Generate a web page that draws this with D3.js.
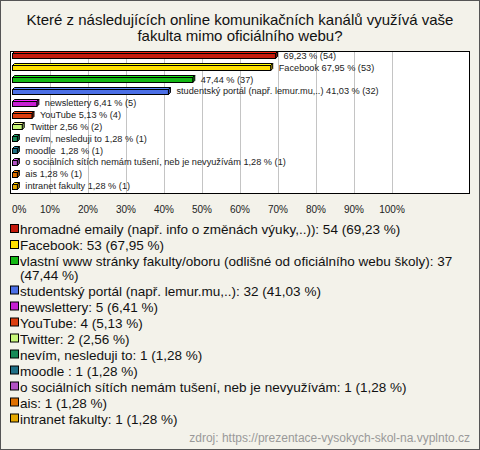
<!DOCTYPE html>
<html><head><meta charset="utf-8">
<script src="https://cdn.jsdelivr.net/npm/d3@7/dist/d3.min.js"></script>
<style>
html,body{margin:0;padding:0;background:#f3f2ea;}
svg{display:block;font-family:"Liberation Sans",Arial,sans-serif;}
</style></head>
<body><svg id="c" width="480" height="450"></svg>
<script>
const titleLines = ["Které z následujících online komunikačních kanálů využívá vaše", "fakulta mimo oficiálního webu?"];
const categories = [
  "hromadné emaily (např. info o změnách výuky,..))",
  "Facebook",
  "vlastní www stránky fakulty/oboru (odlišné od oficiálního webu školy)",
  "studentský portál (např. lemur.mu,..)",
  "newslettery",
  "YouTube",
  "Twitter",
  "nevím, nesleduji to",
  "moodle ",
  "o sociálních sítích nemám tušení, neb je nevyužívám",
  "ais",
  "intranet fakulty"
];
const barNames = ["", "Facebook", "", "studentský portál (např. lemur.mu,..)", "newslettery", "YouTube", "Twitter", "nevím, nesleduji to", "moodle ", "o sociálních sítích nemám tušení, neb je nevyužívám", "ais", "intranet fakulty"];
const counts = [54, 53, 37, 32, 5, 4, 2, 1, 1, 1, 1, 1];
const percents = [69.23, 67.95, 47.44, 41.03, 6.41, 5.13, 2.56, 1.28, 1.28, 1.28, 1.28, 1.28];
const colors = ["#c41a0c", "#ffe000", "#14b814", "#4b6fe6", "#c620d2", "#dc3e10", "#c8f77a", "#178a58", "#1f6f86", "#b252c4", "#e07000", "#e4a800"];
const tickValues = [0,10,20,30,40,50,60,70,80,90,100];
const tickLabels = ["0%","10%","20%","30%","40%","50%","60%","70%","80%","90%","100%"];
const sourceText = "zdroj: https://prezentace-vysokych-skol-na.vyplnto.cz";

const fmt = v => d3.format(".2f")(v).replace(".", ",");
const svg = d3.select("#c");

svg.append("rect").attr("x",0.5).attr("y",0.5).attr("width",479).attr("height",449)
  .attr("fill","#f3f2ea").attr("stroke","#555");

svg.selectAll("text.title").data(titleLines).join("text")
  .attr("x",240).attr("y",(d,i)=>25+i*16).attr("text-anchor","middle")
  .attr("font-size",15).attr("fill","#111").text(d=>d);

const plot = {l:10, t:51, r:470, b:194};
svg.append("rect").attr("x",plot.l+0.5).attr("y",plot.t+0.5)
  .attr("width",plot.r-plot.l-1).attr("height",plot.b-plot.t-1)
  .attr("fill","#fff").attr("stroke","#000");

const x = d3.scaleLinear().domain([0,100]).range([12,392]);
const y = d3.scaleBand().domain(categories).range([50,192]);

svg.selectAll("line.grid").data(tickValues.slice(1)).join("line")
  .attr("x1",d=>Math.round(x(d))+0.5).attr("x2",d=>Math.round(x(d))+0.5)
  .attr("y1",plot.t+1).attr("y2",plot.b-1).attr("stroke","#c4c4c4");

const dep = 2, fh = 5;
const rows = categories.map((c,i)=>({c, i, v:percents[i], n:counts[i], col:colors[i], name:barNames[i]}));
const g = svg.selectAll("g.bar").data(rows).join("g");
g.each(function(d){
  const gg = d3.select(this);
  const cy = y(d.c) + y.bandwidth()/2;
  const x0 = x(0) + 0.5, x1 = Math.max(x(d.v), x0+4) + 0.5;
  const yt = Math.round(cy - fh/2) + 0.5, yb = yt + fh;
  const col = d3.color(d.col);
  gg.append("polygon").attr("points",[[x0,yt],[x0+dep,yt-dep],[x1+dep,yt-dep],[x1,yt]].join(" "))
    .attr("fill",col.brighter(0.6)).attr("stroke","#000").attr("stroke-width",1);
  gg.append("polygon").attr("points",[[x1,yt],[x1+dep,yt-dep],[x1+dep,yb-dep],[x1,yb]].join(" "))
    .attr("fill",col.darker(0.8)).attr("stroke","#000").attr("stroke-width",1);
  gg.append("rect").attr("x",x0).attr("y",yt).attr("width",x1-x0).attr("height",fh)
    .attr("fill",d.col).attr("stroke","#000").attr("stroke-width",1);
  gg.append("text").attr("x",x1+dep+6).attr("y",cy+3).attr("font-size",9.2).attr("fill","#222")
    .style("white-space","pre")
    .text((d.name ? d.name + " " : "") + fmt(d.v) + " % (" + d.n + ")");
});

svg.selectAll("text.tick").data(tickValues).join("text")
  .attr("x",d=>x(d)).attr("y",213)
  .attr("text-anchor",(d,i)=> i===0 ? "start" : "middle")
  .attr("font-size",10).attr("fill","#222").text((d,i)=>tickLabels[i]);

// legend
const legend = svg.append("g");
let ly = 234;
const maxW = 460, lfs = 13.5;
rows.forEach(d=>{
  const full = d.c + ": " + d.n + " (" + fmt(d.v) + " %)";
  const lg = legend.append("g");
  lg.append("rect").attr("x",10.5).attr("y",ly-9.5).attr("width",8).attr("height",8)
    .attr("fill",d.col).attr("stroke","#000");
  const t = lg.append("text").attr("x",20).attr("y",ly).attr("font-size",lfs).attr("fill","#111");
  const words = full.split(" ");
  let line = [], lines = [];
  const probe = svg.append("text").attr("font-size",lfs);
  words.forEach(w=>{
    const test = line.concat([w]).join(" ");
    probe.text(test);
    if (20 + probe.node().getComputedTextLength() > maxW && line.length){ lines.push(line.join(" ")); line=[w]; }
    else line.push(w);
  });
  lines.push(line.join(" "));
  probe.remove();
  lines.forEach((l,k)=>{
    t.append("tspan").attr("x",20).attr("y",ly + k*13.5).text(l);
  });
  ly += 16 + (lines.length-1)*13.5;
});

svg.append("text").attr("x",470).attr("y",442).attr("text-anchor","end")
  .attr("font-size",12).attr("fill","#999").text(sourceText);
</script></body></html>
